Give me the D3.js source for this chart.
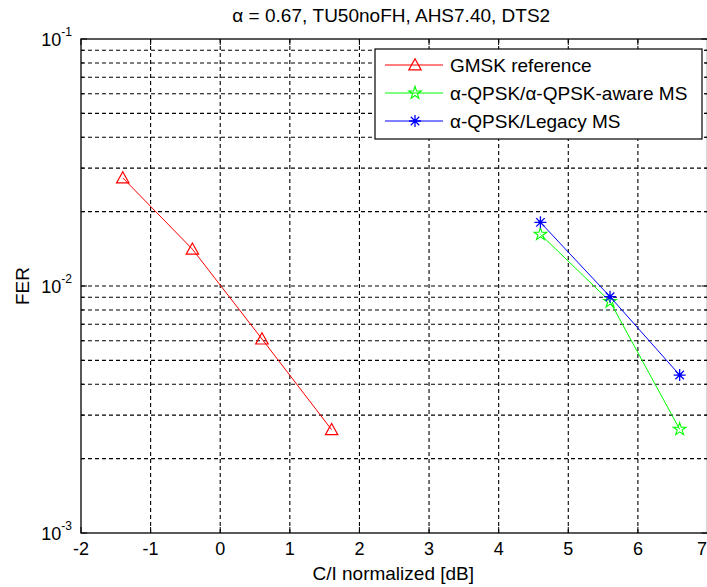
<!DOCTYPE html>
<html><head><meta charset="utf-8">
<script src="https://cdn.jsdelivr.net/npm/d3@7/dist/d3.min.js"></script>
<style>
html,body{margin:0;padding:0;background:#fff;overflow:hidden}
text{font-family:"Liberation Sans",Arial,Helvetica,sans-serif;fill:#000}
</style></head>
<body><svg id="c" width="707" height="587"></svg>
<script>
const titleText = "\u03B1 = 0.67, TU50noFH, AHS7.40, DTS2";
const xLabel = "C/I normalized [dB]";
const yLabel = "FER";
const xTicks = [-2,-1,0,1,2,3,4,5,6,7];
const yMajor = [1e-3,1e-2,1e-1];
const yMajorLabels = ["-3","-2","-1"];
const seriesNames = ["GMSK reference","\u03B1-QPSK/\u03B1-QPSK-aware MS","\u03B1-QPSK/Legacy MS"];
const xGmsk = [-1.4,-0.4,0.6,1.6];
const ferGmsk = [0.0274,0.0141,0.0061,0.00262];
const xQpsk = [4.6,5.6,6.6];
const ferAware = [0.0162,0.00865,0.00263];
const ferLegacy = [0.0181,0.00905,0.00436];
const colors = ["#ff0000","#00ff00","#0000ff"];

const W=707,H=587;
const m={l:81,r:707.5,t:39,b:533};
const FS=19;
const svg=d3.select("#c");
const x=d3.scaleLinear().domain([-2,7]).range([m.l,m.r]);
const y=d3.scaleLog().domain([1e-3,1e-1]).range([m.b,m.t]);

const minor=[];
for(const d of [1e-3,1e-2]) for(let k=2;k<=9;k++) minor.push(d*k);

// grid
const g=svg.append("g");
g.selectAll(".gx").data(xTicks.slice(1,-1)).join("line")
 .attr("x1",d=>x(d)).attr("x2",d=>x(d)).attr("y1",m.t).attr("y2",m.b)
 .attr("stroke","#000").attr("stroke-width",1.1).attr("stroke-dasharray","4,3");
g.selectAll(".gy").data(minor.concat([1e-2])).join("line")
 .attr("x1",m.l).attr("x2",m.r).attr("y1",d=>y(d)).attr("y2",d=>y(d))
 .attr("stroke","#000").attr("stroke-width",1.1).attr("stroke-dasharray","4,3");

// axes box
svg.append("rect").attr("x",m.l).attr("y",m.t).attr("width",m.r-m.l).attr("height",m.b-m.t)
 .attr("fill","none").attr("stroke","#000").attr("stroke-width",1.3);

// ticks
const tk=svg.append("g").attr("stroke","#000").attr("stroke-width",1);
xTicks.forEach(d=>{
  tk.append("line").attr("x1",x(d)).attr("x2",x(d)).attr("y1",m.b).attr("y2",m.b-6);
  tk.append("line").attr("x1",x(d)).attr("x2",x(d)).attr("y1",m.t).attr("y2",m.t+6);
});
yMajor.forEach(d=>{
  tk.append("line").attr("x1",m.l).attr("x2",m.l+6).attr("y1",y(d)).attr("y2",y(d));
  tk.append("line").attr("x1",m.r).attr("x2",m.r-6).attr("y1",y(d)).attr("y2",y(d));
});
minor.forEach(d=>{
  tk.append("line").attr("x1",m.l).attr("x2",m.l+3).attr("y1",y(d)).attr("y2",y(d));
  tk.append("line").attr("x1",m.r).attr("x2",m.r-3).attr("y1",y(d)).attr("y2",y(d));
});

// tick labels
svg.selectAll(".xt").data(xTicks).join("text")
 .attr("x",d=>Math.min(x(d),702)).attr("y",m.b+22).attr("text-anchor","middle")
 .attr("font-size",18).text(d=>d);
yMajor.forEach((d,i)=>{
  const t=svg.append("text").attr("x",m.l-9).attr("y",y(d)+7).attr("text-anchor","end").attr("font-size",18);
  t.append("tspan").text("10");
  t.append("tspan").attr("font-size",12).attr("dy",-10).text(yMajorLabels[i]);
});

// title and labels
svg.append("text").attr("x",(m.l+m.r)/2-3).attr("y",22).attr("text-anchor","middle").attr("font-size",FS).text(titleText);
svg.append("text").attr("x",(m.l+m.r)/2-1).attr("y",580).attr("text-anchor","middle").attr("font-size",FS).text(xLabel);
svg.append("text").attr("transform",`translate(29,${(m.t+m.b)/2}) rotate(-90)`).attr("text-anchor","middle").attr("font-size",FS).text(yLabel);

// markers
function triPath(s){return `M0,${-s}L${s},${s*0.8}L${-s},${s*0.8}Z`;}
function astPath(s){const d=s*0.707;return `M${-s},0L${s},0M0,${-s}L0,${s}M${-d},${-d}L${d},${d}M${-d},${d}L${d},${-d}`;}
const starSym=d3.symbol().type(d3.symbolStar).size(50);

const line=d3.line().x(d=>x(d[0])).y(d=>y(d[1]));
const series=[
  {xs:xGmsk,ys:ferGmsk,c:colors[0],mk:"tri"},
  {xs:xQpsk,ys:ferAware,c:colors[1],mk:"star"},
  {xs:xQpsk,ys:ferLegacy,c:colors[2],mk:"ast"}
];
function drawMarker(sel,mk,c){
  if(mk==="tri") sel.append("path").attr("d",triPath(6.2)).attr("fill","none").attr("stroke",c).attr("stroke-width",1.2);
  else if(mk==="star") sel.append("path").attr("d",starSym()).attr("fill","none").attr("stroke",c).attr("stroke-width",1.1);
  else { sel.append("path").attr("d",astPath(6)).attr("fill","none").attr("stroke",c).attr("stroke-width",1.3);
         sel.append("circle").attr("r",2).attr("fill",c); }
}
series.forEach(s=>{
  const pts=s.xs.map((v,i)=>[v,s.ys[i]]);
  svg.append("path").datum(pts).attr("d",line).attr("fill","none").attr("stroke",s.c).attr("stroke-width",1);
  pts.forEach(p=>{
    const gm=svg.append("g").attr("transform",`translate(${x(p[0])},${y(p[1])})`);
    drawMarker(gm,s.mk,s.c);
  });
});

// legend
const lg=svg.append("g");
const lx=375, ly=49, lw=327, lh=90;
lg.append("rect").attr("x",lx).attr("y",ly).attr("width",lw).attr("height",lh).attr("fill","#fff").attr("stroke","#000").attr("stroke-width",1.2);
series.forEach((s,i)=>{
  const yy=ly+16+i*28;
  lg.append("line").attr("x1",lx+10).attr("x2",lx+68).attr("y1",yy).attr("y2",yy).attr("stroke",s.c).attr("stroke-width",1.2);
  const gm=lg.append("g").attr("transform",`translate(${lx+40},${yy})`);
  drawMarker(gm,s.mk,s.c);
  lg.append("text").attr("x",lx+75).attr("y",yy+7).attr("font-size",FS).text(seriesNames[i]);
});
</script></body></html>
